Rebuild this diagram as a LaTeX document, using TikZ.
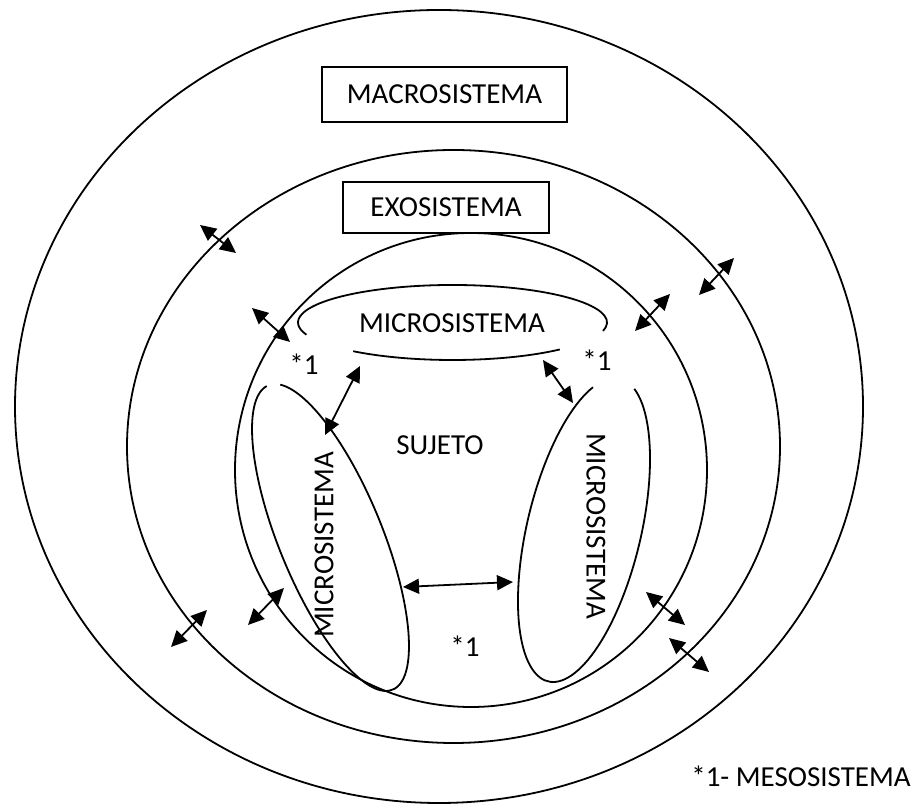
\documentclass[tikz,border=0pt]{standalone}
\usepackage{fontspec}
\setmainfont{Carlito}
\usetikzlibrary{arrows.meta}
\begin{document}
\begin{tikzpicture}[x=1pt,y=1pt,
  line width=1.8pt,
  lbl/.style={font=\fontsize{29}{34}\selectfont, inner sep=0pt},
  boxnode/.style={draw, line width=1.6pt, font=\fontsize{29}{34}\selectfont, inner sep=0pt},
  dblarrow/.style={{Triangle[length=16pt,width=15pt]}-{Triangle[length=16pt,width=15pt]}, line width=1.8pt}
]
\useasboundingbox (0,0) rectangle (916,805);

% concentric systems
\draw (439,398.5) ellipse [x radius=424pt, y radius=396.5pt];
\draw (453.5,358.5) ellipse [x radius=326.5pt, y radius=296.5pt];
\draw (471,335) ellipse [x radius=236pt, y radius=237pt];

% top microsystem (two arcs)
\begin{scope}[shift={(452.5,482.5)}]
  \draw (-13:154.5pt and 37.5pt) arc[start angle=-13, end angle=199, x radius=154.5pt, y radius=37.5pt];
  \draw (230:154.5pt and 37.5pt) arc[start angle=230, end angle=314, x radius=154.5pt, y radius=37.5pt];
\end{scope}
% left microsystem
\begin{scope}[shift={(330.5,267.5)}, rotate=-67.8]
  \draw (182:164.4pt and 51.8pt) arc[start angle=182, end angle=527.5, x radius=164.4pt, y radius=51.8pt];
\end{scope}
% right microsystem
\begin{scope}[shift={(584,275)}, rotate=76.7]
  \draw (25:155.6pt and 57pt) arc[start angle=25, end angle=343.2, x radius=155.6pt, y radius=57pt];
\end{scope}

% labels
\node[boxnode, minimum width=245pt, minimum height=55pt] (macro) at (444.5,710.5) {MACROSISTEMA};
\node[boxnode, minimum width=206pt, minimum height=51pt] (exo) at (446,597.5) {EXOSISTEMA};
\node[lbl] (microtop) at (452,482) {MICROSISTEMA};
\node[lbl] (sujeto) at (440,360) {SUJETO};
\node[lbl, rotate=90] (microleft) at (324,260) {MICROSISTEMA};
\node[lbl, rotate=-90] (microright) at (596,279) {MICROSISTEMA};
\node[lbl] (mesoTL) at (304,441) {*1};
\node[lbl] (mesoTR) at (597,445) {*1};
\node[lbl] (mesoB) at (465,159) {*1};
\node[lbl] (legend) at (801,29) {*1- MESOSISTEMA};

% arrow end points
\coordinate (a1s) at (200,580); \coordinate (a1e) at (236,552);
\coordinate (a2s) at (252,497); \coordinate (a2e) at (290,463);
\coordinate (a3s) at (171,158); \coordinate (a3e) at (207,195);
\coordinate (a4s) at (248,180); \coordinate (a4e) at (284,217);
\coordinate (a5s) at (360,439); \coordinate (a5e) at (325,370);
\coordinate (a6s) at (543,445); \coordinate (a6e) at (573,402);
\coordinate (a7s) at (635,474); \coordinate (a7e) at (670,511);
\coordinate (a8s) at (699,510); \coordinate (a8e) at (734,547);
\coordinate (a9s) at (403,218); \coordinate (a9e) at (513,223);
\coordinate (a10s) at (646,213); \coordinate (a10e) at (685,180);
\coordinate (a11s) at (669,167); \coordinate (a11e) at (709,133);

\foreach \i in {1,...,11} {
  \draw[dblarrow] (a\i s) -- (a\i e);
}
\end{tikzpicture}
\end{document}
